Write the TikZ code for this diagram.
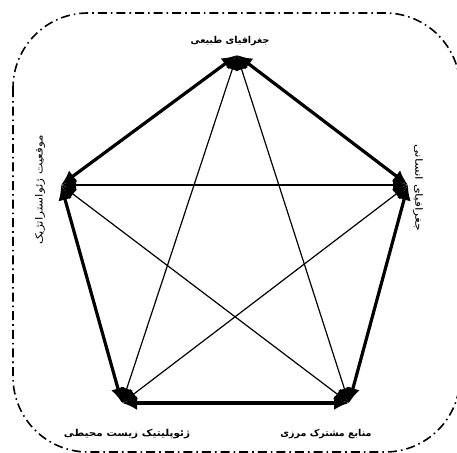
\documentclass[tikz,border=0pt]{standalone}
\usepackage{fontspec}
\TeXXeTstate=1
\newfontfamily\arabicfont[Script=Arabic]{DejaVu Sans}
\usetikzlibrary{arrows.meta}
\begin{document}
\begin{tikzpicture}[x=1pt,y=-1pt,
  frame/.style={line width=1.6pt, dash pattern=on 9pt off 4pt on 1.6pt off 4pt, rounded corners=75pt},
  thickedge/.style={line width=3.2pt, {Latex[length=15pt,width=14pt]}-{Latex[length=15pt,width=14pt]}},
  thinedge/.style={line width=1.2pt, {Latex[length=15pt,width=13pt]}-{Latex[length=15pt,width=13pt]}},
  lbl/.style={font=\arabicfont\bfseries\fontsize{9.5}{11}\selectfont, inner sep=0pt},
  sidelbl/.style={font=\arabicfont\fontsize{10}{12}\selectfont, inner sep=0pt}]
\useasboundingbox (0,0) rectangle (457,452);
\draw[frame] (13,13) rectangle (460,452);
% vertices
\coordinate (T) at (237,55);
\coordinate (L) at (61,185);
\coordinate (R) at (408,185);
\coordinate (BL) at (122,403);
\coordinate (BR) at (349,403);
% labels
\node[lbl] (tT) at (230,41) {\beginR جغرافیای طبیعی\endR};
\node[sidelbl, rotate=90] (tL) at (40,190) {\scalebox{1.2}[1]{\beginR موقعیت ژئواستراتژیک\endR}};
\node[sidelbl, rotate=-90] (tR) at (418,188) {\scalebox{1.25}[1]{\beginR جغرافیای انسانی\endR}};
\node[lbl] (tBL) at (127,434) {\scalebox{1.1}[1]{\beginR ژئوپلیتیک زیست محیطی\endR}};
\node[lbl] (tBR) at (326,434) {\beginR منابع مشترک مرزی\endR};
% inner diagonals
\draw[thinedge] (T) -- (BL);
\draw[thinedge] (T) -- (BR);
\draw[thinedge] (L) -- (R);
\draw[thinedge] (L) -- (BR);
\draw[thinedge] (R) -- (BL);
% outer pentagon
\draw[thickedge] (T) -- (L);
\draw[thickedge] (L) -- (BL);
\draw[thickedge] (BL) -- (BR);
\draw[thickedge] (BR) -- (R);
\draw[thickedge] (R) -- (T);
\end{tikzpicture}
\end{document}
